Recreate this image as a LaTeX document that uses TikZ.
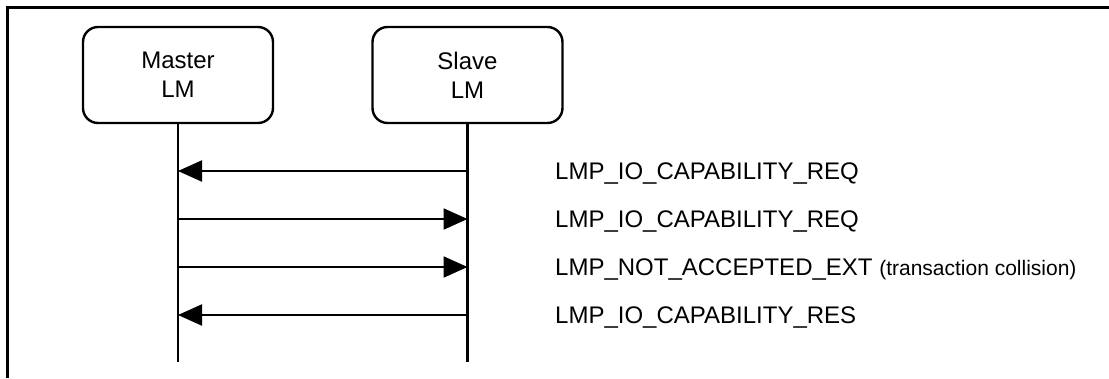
\documentclass[tikz,border=0pt]{standalone}
\usepackage{fontspec}
\setmainfont{Liberation Sans}
\usetikzlibrary{arrows.meta}
\begin{document}
\begin{tikzpicture}[x=1pt,y=-1pt,
  lmbox/.style={draw,line width=2.4pt,rounded corners=15pt,minimum width=190pt,minimum height=96pt,align=center,inner sep=0pt,font=\fontsize{24}{29}\selectfont},
  life/.style={line width=2.4pt},
  msg/.style={line width=2.2pt,-{Triangle[length=24pt,width=21pt]}},
  lbl/.style={anchor=base west,inner sep=0pt,font=\fontsize{24}{28}\selectfont}]
\useasboundingbox (0,0) rectangle (1109,378);
\draw[line width=2.4pt] (7.3,378) -- (7.3,7.3) -- (1109,7.3);
\node[lmbox] (master) at (178,75) {Master\\LM};
\node[lmbox] (slave) at (467.5,75) {Slave\\LM};
\coordinate (mend) at (178,362);
\coordinate (send) at (467.5,362);
\draw[life] (master.south) -- (mend);
\draw[life] (slave.south) -- (send);
\coordinate (m1) at (178,171); \coordinate (s1) at (467.5,171);
\coordinate (m2) at (178,219); \coordinate (s2) at (467.5,219);
\coordinate (m3) at (178,267); \coordinate (s3) at (467.5,267);
\coordinate (m4) at (178,315); \coordinate (s4) at (467.5,315);
\draw[msg] (s1) -- (m1);
\draw[msg] (m2) -- (s2);
\draw[msg] (m3) -- (s3);
\draw[msg] (s4) -- (m4);
\node[lbl] (l1) at (555,179.5) {LMP\_IO\_CAPABILITY\_REQ};
\node[lbl] (l2) at (555,227.5) {LMP\_IO\_CAPABILITY\_REQ};
\node[lbl] (l3) at (555,275.5) {LMP\_NOT\_ACCEPTED\_EXT {\fontsize{21}{24}\selectfont (transaction collision)}};
\node[lbl] (l4) at (555,323.5) {LMP\_IO\_CAPABILITY\_RES};
\end{tikzpicture}
\end{document}
